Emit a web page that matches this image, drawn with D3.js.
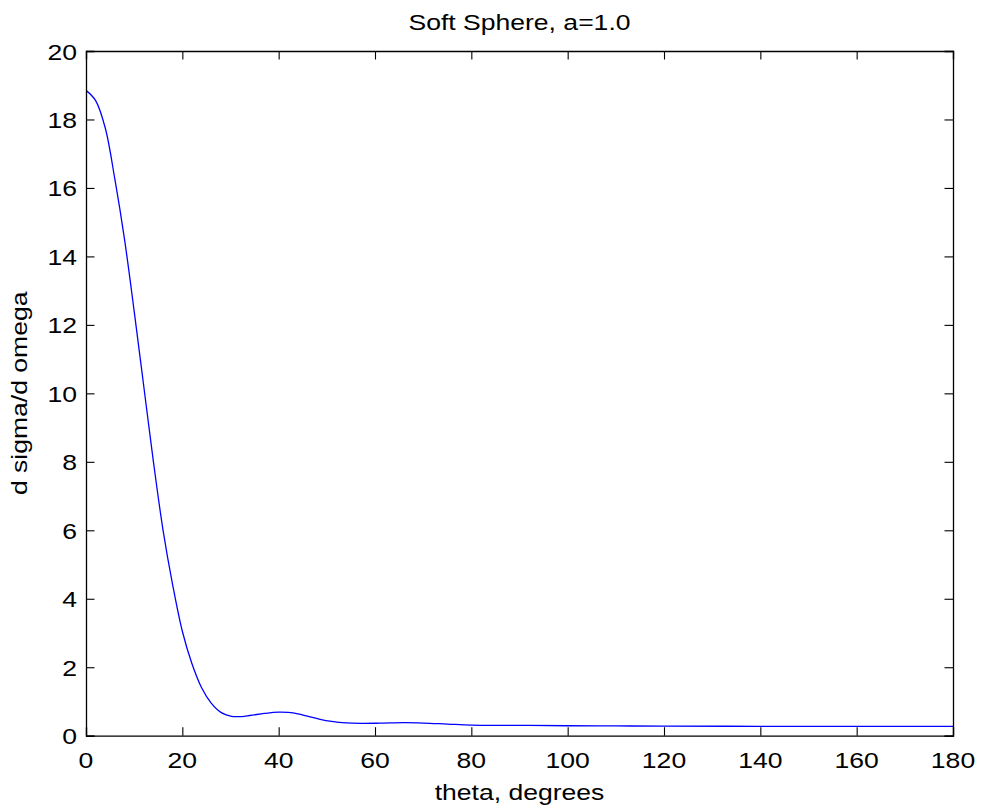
<!DOCTYPE html>
<html>
<head>
<meta charset="utf-8">
<script src="https://cdn.jsdelivr.net/npm/d3@7"></script>
<style>
  html, body { margin: 0; padding: 0; background: #fff; }
  svg { display: block; }
  text { font-family: "Liberation Sans", Arial, Helvetica, sans-serif; fill: #000; }
</style>
</head>
<body>
<svg id="chart" width="982" height="812"></svg>
<script>
// ---- data ----
const thetaDeg = [0, 2, 4, 6, 8, 10, 12, 14, 16, 18, 20, 22, 24, 26, 28, 30, 31.5, 34, 37, 40, 42, 44, 46, 48.6, 51, 54, 57, 61, 66, 70, 75, 80, 86, 92, 100, 110, 120, 140, 160, 180];
const dSigmaDOmega = [18.85, 18.55, 17.75, 16.25, 14.5, 12.4, 10.2, 8.0, 6.0, 4.4, 3.05, 2.1, 1.4, 0.95, 0.68, 0.57, 0.555, 0.59, 0.65, 0.69, 0.68, 0.64, 0.57, 0.48, 0.42, 0.375, 0.36, 0.365, 0.38, 0.37, 0.34, 0.31, 0.30, 0.30, 0.29, 0.285, 0.28, 0.275, 0.27, 0.27];
const xTicks = [0, 20, 40, 60, 80, 100, 120, 140, 160, 180];
const yTicks = [0, 2, 4, 6, 8, 10, 12, 14, 16, 18, 20];
const titleText = "Soft Sphere, a=1.0";
const xLabelText = "theta, degrees";
const yLabelText = "d sigma/d omega";

const data = thetaDeg.map((t, i) => ({ t, v: dSigmaDOmega[i] }));

// ---- layout ----
const L = 86, R = 953, T = 51, B = 735.7;
const fs = 22.5, sx = 1.18, tickLen = 8.5;

const svg = d3.select("#chart");
const x = d3.scaleLinear().domain([0, 180]).range([L, R]);
const y = d3.scaleLinear().domain([0, 20]).range([B, T]);

// curve (clipped to plot)
svg.append("clipPath").attr("id", "clip")
  .append("rect").attr("x", L).attr("y", T).attr("width", R - L).attr("height", B - T);

const line = d3.line().x(d => x(d.t)).y(d => y(d.v)).curve(d3.curveCatmullRom.alpha(0.5));
svg.append("path").datum(data)
  .attr("clip-path", "url(#clip)")
  .attr("d", line)
  .attr("fill", "none")
  .attr("stroke", "#0000ff")
  .attr("stroke-width", 1.3);

// axes with inward ticks (box style)
const axB = d3.axisBottom(x).tickValues(xTicks).tickSize(-tickLen).tickFormat("");
const axT = d3.axisTop(x).tickValues(xTicks).tickSize(-tickLen).tickFormat("");
const axL = d3.axisLeft(y).tickValues(yTicks).tickSize(-tickLen).tickFormat("");
const axR = d3.axisRight(y).tickValues(yTicks).tickSize(-tickLen).tickFormat("");

function style(g) {
  g.selectAll("path").attr("stroke", "#000").attr("stroke-width", 1.3);
  g.selectAll("line").attr("stroke", "#000").attr("stroke-width", 1.1);
}
svg.append("g").attr("transform", `translate(0,${B})`).call(axB).call(style);
svg.append("g").attr("transform", `translate(0,${T})`).call(axT).call(style);
svg.append("g").attr("transform", `translate(${L},0)`).call(axL).call(style);
svg.append("g").attr("transform", `translate(${R},0)`).call(axR).call(style);

// tick labels
svg.append("g").selectAll("text").data(xTicks).join("text")
  .attr("transform", d => `translate(${x(d)},768) scale(${sx},1)`)
  .attr("text-anchor", "middle")
  .style("font-size", fs + "px")
  .text(d => d);

svg.append("g").selectAll("text").data(yTicks).join("text")
  .attr("transform", d => `translate(77,${y(d) + 8.5}) scale(${sx},1)`)
  .attr("text-anchor", "end")
  .style("font-size", fs + "px")
  .text(d => d);

// title & labels
svg.append("text")
  .attr("transform", `translate(${(L + R) / 2},29.5) scale(${sx},1)`)
  .attr("text-anchor", "middle").style("font-size", fs + "px").text(titleText);

svg.append("text")
  .attr("transform", `translate(${(L + R) / 2},800) scale(${sx},1)`)
  .attr("text-anchor", "middle").style("font-size", fs + "px").text(xLabelText);

svg.append("text")
  .attr("transform", `translate(27,${(T + B) / 2}) rotate(-90) scale(${sx},1)`)
  .attr("text-anchor", "middle").style("font-size", fs + "px").text(yLabelText);
</script>
</body>
</html>
